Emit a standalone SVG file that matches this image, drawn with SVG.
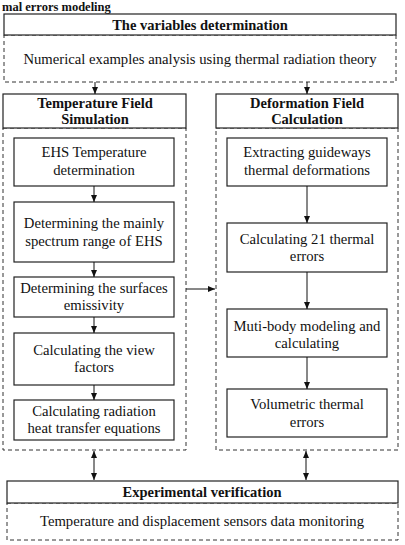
<svg xmlns="http://www.w3.org/2000/svg" width="405" height="545" viewBox="0 0 405 545">
<defs>
<marker id="ah" markerUnits="userSpaceOnUse" markerWidth="8" markerHeight="8" viewBox="0 0 8 8" refX="7" refY="4" orient="auto-start-reverse">
<path d="M0,1 L7,4 L0,7 Z" fill="#111"/>
</marker>
<style>
text{font-family:"Liberation Serif","Times New Roman",serif;fill:#111;text-anchor:middle}
.b{font-weight:bold;font-size:14.5px}
.t{font-size:14.7px}
.s{fill:#fff;stroke:#222;stroke-width:1.2}
.d{fill:none;stroke:#333;stroke-width:1;stroke-dasharray:4 3}
.c{fill:none;stroke:#111;stroke-width:1;marker-end:url(#ah)}
.c2{fill:none;stroke:#111;stroke-width:1;marker-end:url(#ah);marker-start:url(#ah)}
</style>
</defs>
<rect width="405" height="545" fill="#fff"/>
<text x="2" y="11.2" style="font-weight:bold;font-size:12.5px;text-anchor:start">mal errors modeling</text>

<g id="variables">
<rect class="d" x="4" y="35" width="392" height="47"/>
<rect class="s" x="4" y="14" width="392" height="21"/>
<text class="b" x="200" y="29.5">The variables determination</text>
<text class="t" x="200" y="64">Numerical examples analysis using thermal radiation theory</text>
</g>

<g id="tempPanel">
<rect class="d" x="3" y="128" width="183" height="322"/>
<rect class="s" x="3" y="94" width="183" height="34"/>
<text class="b" x="95" y="108">Temperature Field</text>
<text class="b" x="95" y="124">Simulation</text>
</g>
<g id="t1"><rect class="s" x="14" y="138" width="160" height="48"/><text class="t" x="94" y="157">EHS Temperature</text><text class="t" x="94" y="175">determination</text></g>
<g id="t2"><rect class="s" x="14" y="202" width="160" height="60"/><text class="t" x="94" y="228">Determining the mainly</text><text class="t" x="94" y="246">spectrum range of EHS</text></g>
<g id="t3"><rect class="s" x="14" y="277" width="160" height="40"/><text class="t" x="94" y="293">Determining the surfaces</text><text class="t" x="94" y="310">emissivity</text></g>
<g id="t4"><rect class="s" x="14" y="333" width="160" height="52"/><text class="t" x="94" y="355">Calculating the view</text><text class="t" x="94" y="372">factors</text></g>
<g id="t5"><rect class="s" x="14" y="400" width="160" height="40"/><text class="t" x="94" y="416">Calculating radiation</text><text class="t" x="94" y="433">heat transfer equations</text></g>

<g id="defPanel">
<rect class="d" x="216" y="128" width="182" height="322"/>
<rect class="s" x="216" y="94" width="182" height="34"/>
<text class="b" x="307" y="108">Deformation Field</text>
<text class="b" x="307" y="124">Calculation</text>
</g>
<g id="d1"><rect class="s" x="227" y="138" width="160" height="48"/><text class="t" x="307" y="157">Extracting guideways</text><text class="t" x="307" y="175">thermal deformations</text></g>
<g id="d2"><rect class="s" x="227" y="223" width="160" height="49"/><text class="t" x="307" y="244">Calculating 21 thermal</text><text class="t" x="307" y="261">errors</text></g>
<g id="d3"><rect class="s" x="227" y="309" width="160" height="48"/><text class="t" x="307" y="331">Muti-body modeling and</text><text class="t" x="307" y="348">calculating</text></g>
<g id="d4"><rect class="s" x="227" y="389" width="160" height="48"/><text class="t" x="307" y="409">Volumetric thermal</text><text class="t" x="307" y="427">errors</text></g>

<g id="experimental">
<rect class="d" x="7" y="503" width="391" height="37"/>
<rect class="s" x="7" y="481" width="391" height="22"/>
<text class="b" x="202" y="496.5">Experimental verification</text>
<text class="t" x="202" y="526">Temperature and displacement sensors data monitoring</text>
</g>

<g id="connectors">
<line class="c" x1="95" y1="82" x2="95" y2="94"/>
<line class="c" x1="307" y1="82" x2="307" y2="94"/>
<line class="c" x1="94" y1="186" x2="94" y2="202"/>
<line class="c" x1="94" y1="262" x2="94" y2="277"/>
<line class="c" x1="94" y1="317" x2="94" y2="333"/>
<line class="c" x1="94" y1="385" x2="94" y2="400"/>
<line class="c" x1="307" y1="186" x2="307" y2="223"/>
<line class="c" x1="307" y1="272" x2="307" y2="309"/>
<line class="c" x1="307" y1="357" x2="307" y2="389"/>
<line class="c" x1="186" y1="289" x2="215" y2="289"/>
<line class="c2" x1="94" y1="451" x2="94" y2="480"/>
<line class="c2" x1="306" y1="451" x2="306" y2="480"/>
</g>
</svg>
